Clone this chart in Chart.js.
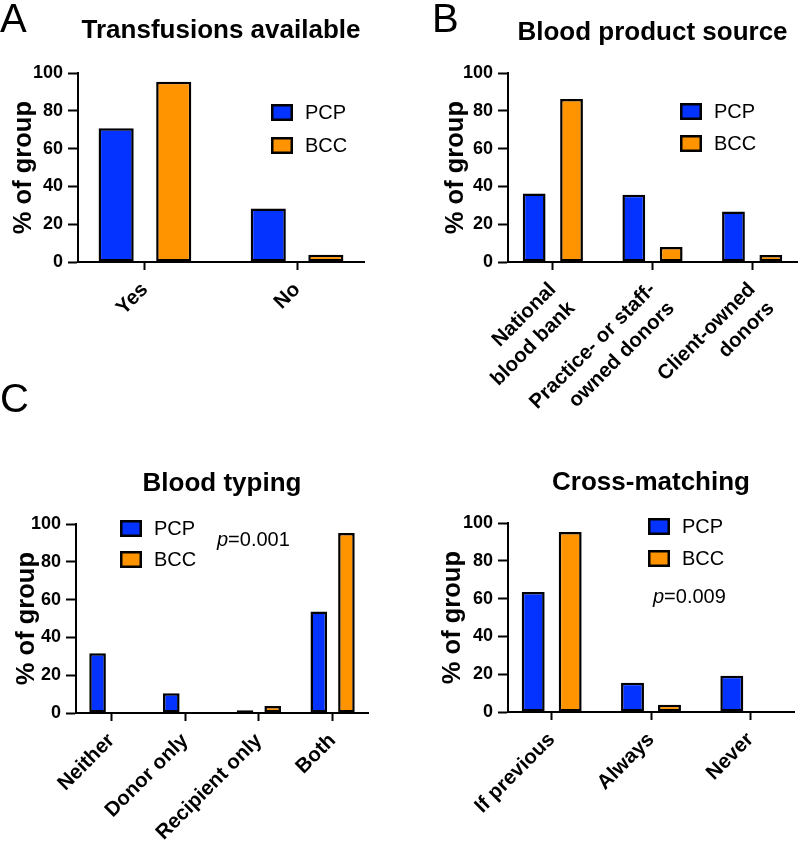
<!DOCTYPE html>
<html>
<head>
<meta charset="utf-8">
<script src="https://cdn.jsdelivr.net/npm/chart.js@4.4.1/dist/chart.umd.min.js"></script>
<style>
html, body { margin: 0; padding: 0; background: #fff; }
#wrap { position: relative; width: 800px; height: 843px; overflow: hidden; }
canvas { position: absolute; }
</style>
</head>
<body>
<div id="wrap">
  <canvas id="panelA" width="400" height="380" style="left:0;top:0"></canvas>
  <canvas id="panelB" width="400" height="430" style="left:400px;top:0"></canvas>
  <canvas id="panelC" width="400" height="463" style="left:0;top:380px"></canvas>
  <canvas id="panelD" width="400" height="463" style="left:400px;top:380px"></canvas>
</div>
<script>
const seriesNames = ['PCP', 'BCC'];
const seriesColors = ['#0433ff', '#ff9300'];
const yTicks = [0, 20, 40, 60, 80, 100];

// A - transfusions available
const transfusionCats = ['Yes', 'No'];
const transfusionPcp = [70.9, 28.4];
const transfusionBcc = [95.5, 3.9];

// B - blood product source
const sourceCats = [['National', 'blood bank'], ['Practice- or staff-', 'owned donors'], ['Client-owned', 'donors']];
const sourcePcp = [36.3, 35.6, 26.7];
const sourceBcc = [86.3, 7.9, 3.7];

// C - blood typing
const typingCats = ['Neither', 'Donor only', 'Recipient only', 'Both'];
const typingPcp = [31.6, 10.5, 1.4, 53.8];
const typingBcc = [0, 0, 3.7, 95.3];

// D - cross-matching
const crossCats = ['If previous', 'Always', 'Never'];
const crossPcp = [63.5, 15.5, 19.2];
const crossBcc = [95.3, 3.9, 0];

const FONT = "'Liberation Sans', Arial, Helvetica, sans-serif";
Chart.defaults.font.family = FONT;
Chart.defaults.color = '#000';

// legend boxes, p-value and panel letter drawn on top of each chart
const panelExtras = {
  id: 'panelExtras',
  afterDraw(chart, args, opts) {
    const ctx = chart.ctx;
    ctx.save();
    ctx.fillStyle = '#000';
    if (opts.letter) {
      ctx.font = '40px ' + FONT;
      ctx.textAlign = 'left';
      ctx.textBaseline = 'alphabetic';
      ctx.fillText(opts.letter.text, opts.letter.x, opts.letter.y);
    }
    if (opts.legend) {
      const lg = opts.legend;
      chart.data.datasets.forEach((ds, i) => {
        const top = lg.y + i * lg.gap;
        ctx.fillStyle = ds.backgroundColor;
        ctx.fillRect(lg.x, top, 22, 17);
        ctx.lineWidth = 2.5;
        ctx.strokeStyle = '#000';
        ctx.strokeRect(lg.x + 1.25, top + 1.25, 19.5, 14.5);
        ctx.fillStyle = '#000';
        ctx.font = '20px ' + FONT;
        ctx.textAlign = 'left';
        ctx.textBaseline = 'middle';
        ctx.fillText(ds.label, lg.x + 34, top + 9);
      });
    }
    if (opts.pValue) {
      const pv = opts.pValue;
      ctx.textAlign = 'left';
      ctx.textBaseline = 'middle';
      ctx.font = 'italic 20px ' + FONT;
      ctx.fillText('p', pv.x, pv.y);
      const w = ctx.measureText('p').width;
      ctx.font = '20px ' + FONT;
      ctx.fillText('=' + pv.text, pv.x + w, pv.y);
    }
    ctx.restore();
  }
};

function makeGroupedBar(id, labels, pcp, bcc, cfg) {
  // linear index axis so the outer gap can be narrower than half a group
  const toPoints = arr => arr.map((v, i) => ({x: i, y: v}));
  const xMin = -cfg.edge;
  const xMax = labels.length - 1 + cfg.edge;
  return new Chart(document.getElementById(id), {
    type: 'bar',
    data: {
      datasets: [
        {label: seriesNames[0], data: toPoints(pcp), backgroundColor: seriesColors[0]},
        {label: seriesNames[1], data: toPoints(bcc), backgroundColor: seriesColors[1]}
      ]
    },
    options: {
      responsive: false,
      animation: false,
      layout: {padding: {left: cfg.padLeft, right: cfg.padRight, top: 0, bottom: 0}},
      datasets: {
        bar: {
          borderColor: '#000',
          borderWidth: 2.5,
          borderSkipped: false,
          barPercentage: cfg.barPct,
          categoryPercentage: cfg.catPct
        }
      },
      plugins: {
        legend: {display: false},
        tooltip: {enabled: false},
        title: {
          display: true,
          text: cfg.title,
          fullSize: false,
          color: '#000',
          font: {size: 26, weight: 'bold'},
          padding: {top: cfg.titleTop, bottom: cfg.titleBottom}
        },
        panelExtras: {letter: cfg.letter, legend: cfg.legend, pValue: cfg.pValue}
      },
      scales: {
        x: {
          type: 'linear',
          offset: false,
          bounds: 'data',
          min: xMin,
          max: xMax,
          afterBuildTicks: s => {
            s.ticks = labels.map((l, i) => ({value: i}));
            s.min = xMin;
            s.max = xMax;
          },
          ticks: {
            callback: v => labels[v],
            font: {size: 20.5, weight: 'bold', lineHeight: 1.3},
            color: '#000', maxRotation: 45, minRotation: 45, autoSkip: false, padding: 7
          },
          grid: {offset: false, drawOnChartArea: false, tickLength: 8, tickWidth: 2, tickColor: '#000'},
          border: {color: '#000', width: 2},
          afterFit: s => { s.height = cfg.xHeight; }
        },
        y: {
          min: 0,
          max: 100,
          afterBuildTicks: s => { s.ticks = yTicks.map(v => ({value: v})); },
          ticks: {font: {size: 18, weight: 'bold'}, color: '#000', padding: 5},
          grid: {drawOnChartArea: false, tickLength: 10, tickWidth: 2, tickColor: '#000'},
          border: {color: '#000', width: 2},
          title: {display: true, text: '% of group', color: '#000', font: {size: 25.5, weight: 'bold'}, padding: {top: 9, bottom: 0}},
          afterFit: s => { s.width = cfg.yWidth; }
        }
      }
    },
    plugins: [panelExtras]
  });
}

makeGroupedBar('panelA', transfusionCats, transfusionPcp, transfusionBcc, {
  title: 'Transfusions available', titleTop: 15, titleBottom: 27,
  padLeft: 0, padRight: 36, yWidth: 78, xHeight: 118, edge: 0.44,
  barPct: 0.61, catPct: 0.757,
  letter: {text: 'A', x: 0, y: 32},
  legend: {x: 271, y: 104, gap: 33}
});

makeGroupedBar('panelB', sourceCats, sourcePcp, sourceBcc, {
  title: 'Blood product source', titleTop: 17.5, titleBottom: 24.5,
  padLeft: 32, padRight: 3, yWidth: 76, xHeight: 168, edge: 0.45,
  barPct: 0.61, catPct: 0.75,
  letter: {text: 'B', x: 32, y: 32},
  legend: {x: 280, y: 103, gap: 32}
});

makeGroupedBar('panelC', typingCats, typingPcp, typingBcc, {
  title: 'Blood typing', titleTop: 88, titleBottom: 25,
  padLeft: 3, padRight: 32, yWidth: 73, xHeight: 130, edge: 0.48,
  barPct: 0.6, catPct: 0.75,
  letter: {text: 'C', x: 0, y: 32},
  legend: {x: 120, y: 140, gap: 31},
  pValue: {x: 217, y: 160, text: '0.001'}
});

makeGroupedBar('panelD', crossCats, crossPcp, crossBcc, {
  title: 'Cross-matching', titleTop: 87, titleBottom: 25,
  padLeft: 29, padRight: 6, yWidth: 79, xHeight: 131, edge: 0.44,
  barPct: 0.62, catPct: 0.745,
  legend: {x: 248, y: 138, gap: 32},
  pValue: {x: 253, y: 217, text: '0.009'}
});
</script>
</body>
</html>
